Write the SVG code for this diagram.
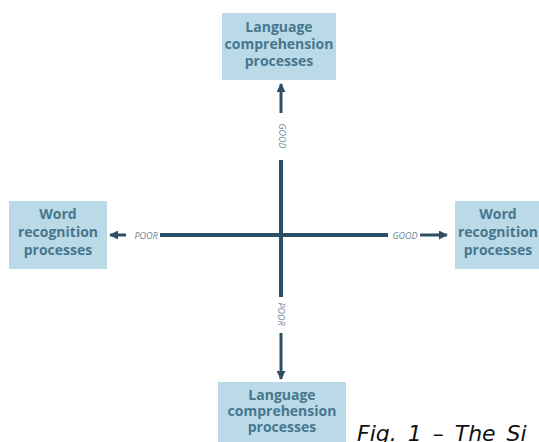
<svg xmlns="http://www.w3.org/2000/svg" width="539" height="442" viewBox="0 0 539 442">
<style>
.box{fill:#badae7;}
.nt{font-family:"Open Sans","Noto Sans",sans-serif;font-weight:bold;font-size:14px;fill:#47768f;text-anchor:middle;}
.ln{stroke:#2d4f67;stroke-width:4;fill:none;}
.ar{stroke:#2d4f67;stroke-width:3;fill:none;}
.lb{font-family:"Open Sans","Noto Sans",sans-serif;font-style:italic;font-size:9px;fill:#6d8594;text-anchor:middle;dominant-baseline:central;}
.cap{font-family:"DejaVu Sans",sans-serif;font-style:italic;font-size:22px;fill:#111;word-spacing:4px;}
</style>
<defs>
<marker id="ah" viewBox="0 0 10 10" refX="9" refY="5" markerWidth="3" markerHeight="3" orient="auto" markerUnits="strokeWidth">
<path d="M0,0 L10,5 L0,10 z" fill="#2d4f67"/>
</marker>
</defs>
<rect width="539" height="442" fill="#ffffff"/>
<g id="connectors">
<line class="ln" x1="281" y1="160" x2="281" y2="297"/>
<line class="ln" x1="160" y1="235" x2="388" y2="235"/>
<line class="ar" x1="281" y1="113" x2="281" y2="84" marker-end="url(#ah)"/>
<line class="ar" x1="281" y1="333" x2="281" y2="379" marker-end="url(#ah)"/>
<line class="ar" x1="126" y1="235" x2="110" y2="235" marker-end="url(#ah)"/>
<line class="ar" x1="420" y1="235" x2="447" y2="235" marker-end="url(#ah)"/>
<text class="lb" transform="translate(282,136) rotate(90)">GOOD</text>
<text class="lb" transform="translate(281,314) rotate(90)">POOR</text>
<text class="lb" x="146" y="235">POOR</text>
<text class="lb" x="405" y="235">GOOD</text>
</g>
<g id="node-top">
<rect class="box" x="222" y="13" width="114" height="67"/>
<text class="nt" x="279" y="32">Language</text>
<text class="nt" x="279" y="49">comprehension</text>
<text class="nt" x="279" y="66">processes</text>
</g>
<g id="node-left">
<rect class="box" x="9" y="201" width="98" height="68"/>
<text class="nt" x="58" y="219">Word</text>
<text class="nt" x="58" y="237">recognition</text>
<text class="nt" x="58" y="255">processes</text>
</g>
<g id="node-right">
<rect class="box" x="455" y="201" width="90" height="68"/>
<text class="nt" x="498" y="219">Word</text>
<text class="nt" x="498" y="237">recognition</text>
<text class="nt" x="498" y="255">processes</text>
</g>
<g id="node-bottom">
<rect class="box" x="218" y="382" width="128" height="62"/>
<text class="nt" x="282" y="400">Language</text>
<text class="nt" x="282" y="416">comprehension</text>
<text class="nt" x="282" y="432">processes</text>
</g>
<text class="cap" x="357" y="441">Fig. 1 – The Si</text>
</svg>
